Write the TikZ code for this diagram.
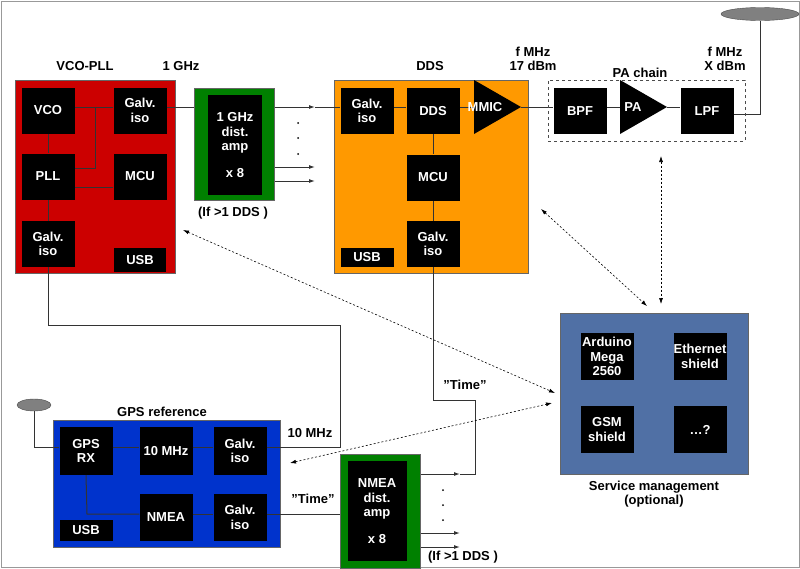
\documentclass[tikz,border=0pt]{standalone}
\usepackage{fontspec}
\setmainfont{Liberation Sans}
\usetikzlibrary{arrows.meta,backgrounds,shapes.geometric}
\definecolor{cred}{RGB}{204,0,0}
\definecolor{corange}{RGB}{255,153,0}
\definecolor{cgreen}{RGB}{0,128,0}
\definecolor{cblue}{RGB}{0,51,204}
\definecolor{cserv}{RGB}{80,112,165}
\begin{document}
\begin{tikzpicture}[x=1pt,y=-1pt,
  font=\bfseries\fontsize{13}{14.5}\selectfont,
  blk/.style={fill=black,text=white,align=center,inner sep=0pt,minimum width=53pt,minimum height=46pt},
  panel/.style={draw=black!60,line width=0.6pt,inner sep=0pt},
  wire/.style={draw=black!80,line width=1pt},
  arr/.style={wire,-{Latex[length=6pt,width=4pt]}},
  dot/.style={black,dashed,dash pattern=on 2pt off 2pt,line width=0.6pt,{Latex[length=6pt,width=4pt]}-{Latex[length=6pt,width=4pt]}},
  lbl/.style={align=center,inner sep=0pt}]
\useasboundingbox (0,0) rectangle (800,568);
\begin{scope}[on background layer]
\draw[black!40,line width=1pt] (1,1) rectangle (799,567);
\node[panel,fill=cred,minimum width=160pt,minimum height=193pt] (red) at (95,176.5) {};
\node[panel,fill=corange,minimum width=194pt,minimum height=193pt] (org) at (431,176.5) {};
\node[panel,fill=cblue,minimum width=227pt,minimum height=127pt] (blu) at (166.5,483.5) {};
\end{scope}
\node[panel,fill=cserv,minimum width=188pt,minimum height=161pt] (srv) at (654,393.5) {};
\node[panel,fill=cgreen,minimum width=80pt,minimum height=112pt] (g1) at (234,144) {};
\node[panel,fill=cgreen,minimum width=80pt,minimum height=114pt] (g2) at (380,511) {};
\node[draw=black!70,dashed,line width=0.7pt,minimum width=197pt,minimum height=61pt,inner sep=0pt] (pac) at (646.5,110.5) {};
% blocks
\node[blk] (vco) at (48,110.5) {VCO};
\node[blk] (gi1) at (140,110.5) {Galv.\\iso};
\node[blk] (pll) at (48,176.5) {PLL};
\node[blk] (mcu1) at (140,176.5) {MCU};
\node[blk] (gi2) at (48,244) {Galv.\\iso};
\node[blk,minimum height=24pt,minimum width=52pt] (usb1) at (140,260) {USB};
\node[blk,minimum width=54pt,minimum height=100pt] (d1) at (235,145) {1 GHz\\dist.\\amp\\[12pt]x 8};
\node[blk] (gid) at (367,111) {Galv.\\iso};
\node[blk] (dds) at (433,111) {DDS};
\node[blk] (mcu2) at (433,177.5) {MCU};
\node[blk] (gi3) at (433,244) {Galv.\\iso};
\node[blk,minimum height=19pt] (usb2) at (367,257.5) {USB};
\node[blk] (bpf) at (580,111) {BPF};
\node[blk] (lpf) at (707,111) {LPF};
\node[blk,minimum height=48pt] (gps) at (86,451) {GPS\\RX};
\node[blk,minimum height=48pt] (ten) at (166,451) {10 MHz};
\node[blk,minimum height=48pt] (gi4) at (240,451) {Galv.\\iso};
\node[blk,minimum height=21pt] (usb3) at (86,530.5) {USB};
\node[blk,minimum height=47pt] (nmea) at (166,517.5) {NMEA};
\node[blk,minimum height=47pt] (gi5) at (240,517.5) {Galv.\\iso};
\node[blk,minimum width=59pt,minimum height=100pt] (d2) at (377,511) {NMEA\\dist.\\amp\\[12pt]x 8};
\node[blk,minimum height=47pt] (ard) at (607,356.5) {Arduino\\Mega\\2560};
\node[blk,minimum height=47pt] (eth) at (700,356.5) {Ethernet\\shield};
\node[blk,minimum height=47pt] (gsm) at (607,429.5) {GSM\\shield};
\node[blk,minimum height=47pt] (qq) at (700,429.5) {\ldots ?};
% triangles
\fill[black] (474,80) coordinate (m1) -- (474,134) -- (521,107) coordinate (mmicout) -- cycle;
\node[text=white,lbl] (mmic) at (485,107) {MMIC};
\fill[black] (620,80) -- (620,134) -- (667,107) coordinate (paout) -- cycle;
\coordinate (pain) at (620,107);
\node[text=white,lbl] (pa) at (633,107) {PA};
% antennas
\node[ellipse,fill=black!50,draw=black!70,minimum width=78pt,minimum height=13pt,inner sep=0pt] (ant1) at (760,14) {};
\node[ellipse,fill=black!50,draw=black!70,minimum width=34pt,minimum height=12pt,inner sep=0pt] (ant2) at (34,405) {};
% coordinates
\coordinate (a1) at (315,107);
\coordinate (a2) at (315,167);
\coordinate (a3) at (315,181);
\coordinate (b1) at (460,474);
\coordinate (b2) at (460,533);
\coordinate (b3) at (460,547);
% wires (background, above panels)
\begin{scope}[on background layer]
\draw[wire] (vco.east |- 0,107) -- (gi1.west |- 0,107);
\draw[wire] (95,107) -- (95,168) -- (pll.east |- 0,168);
\draw[wire] (pll.east |- 0,187) -- (mcu1.west |- 0,187);
\draw[wire] (vco.south) -- (pll.north);
\draw[wire] (pll.south) -- (gi2.north);
\draw[arr] (gi1.east |- 0,107) -- (a1);
\draw[wire] (a1) -- (gid.west |- 0,107);
\draw[arr] (g1.east |- a2) -- (a2);
\draw[arr] (g1.east |- a3) -- (a3);
\draw[wire] (gid.east |- 0,107) -- (dds.west |- 0,107);
\draw[wire] (dds.east |- 0,107) -- (m1 |- 0,107);
\draw[wire] (dds.south) -- (mcu2.north);
\draw[wire] (mcu2.south) -- (gi3.north);
\draw[wire] (mmicout) -- (bpf.west |- 0,107);
\draw[wire] (bpf.east |- 0,107) -- (pain);
\draw[wire] (paout) -- (lpf.west |- 0,107);
\draw[wire] (lpf.east |- 0,114) -- (760,114) -- (ant1.south);
\draw[wire] (gi2.south) -- (48,325) -- (340,325) -- (340,447) -- (gi4.east |- 0,447);
\draw[wire] (gps.east |- 0,447) -- (ten.west |- 0,447);
\draw[wire] (ten.east |- 0,447) -- (gi4.west |- 0,447);
\draw[wire] (ant2.south) -- (34,447) -- (gps.west |- 0,447);
\draw[wire] (gps.south) -- (87,514) -- (nmea.west |- 0,514);
\draw[wire] (nmea.east |- 0,514) -- (gi5.west |- 0,514);
\draw[wire] (gi5.east |- 0,514) -- (g2.west |- 0,514);
\draw[arr] (g2.east |- b1) -- (b1);
\draw[arr] (g2.east |- b2) -- (b2);
\draw[arr] (g2.east |- b3) -- (b3);
\draw[wire] (b1) -- (475,474) -- (475,400) -- (433,400) -- (gi3.south);
\end{scope}
% dotted arrows
\coordinate (p1) at (541,209); \coordinate (p2) at (647,306);
\coordinate (p3) at (661,156); \coordinate (p4) at (661,304);
\coordinate (p5) at (183,230); \coordinate (p6) at (555,393);
\coordinate (p7) at (290,463); \coordinate (p8) at (552,403);
\draw[dot] (p1) -- (p2);
\draw[dot] (p3) -- (p4);
\draw[dot] (p5) -- (p6);
\draw[dot] (p7) -- (p8);
% dots
\foreach \y in {123,138,154} \fill (298,\y) circle (1pt);
\foreach \y in {490,505,520} \fill (443,\y) circle (1pt);
% labels
\node[lbl] (l1) at (85,66) {VCO-PLL};
\node[lbl] (l2) at (181,66) {1 GHz};
\node[lbl] (l3) at (233,213) {(If >1 DDS )};
\node[lbl] (l4) at (430,66) {DDS};
\node[lbl] (l5) at (533,59) {f MHz\\17 dBm};
\node[lbl] (l6) at (640,73) {PA chain};
\node[lbl] (l7) at (725,59) {f MHz\\X dBm};
\node[lbl] (l8) at (654,494) {Service management\\(optional)};
\node[lbl] (l9) at (162,412) {GPS reference};
\node[lbl] (l10) at (310,433) {10 MHz};
\node[lbl] (l11) at (313,499) {"Time"};
\node[lbl] (l12) at (465,385) {"Time"};
\node[lbl] (l13) at (463,557) {(If >1 DDS )};
\end{tikzpicture}
\end{document}
